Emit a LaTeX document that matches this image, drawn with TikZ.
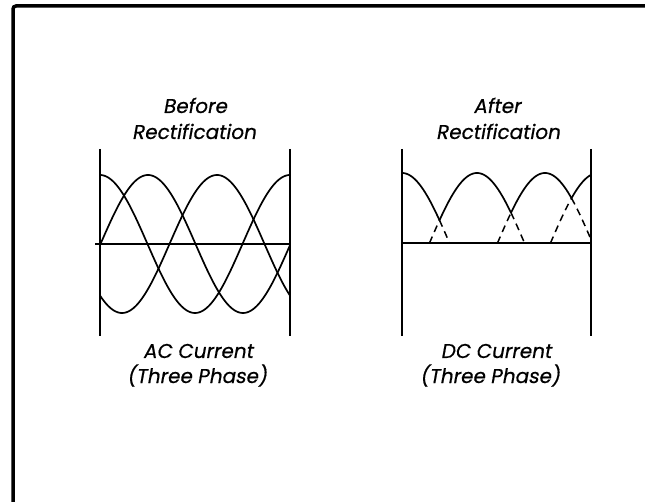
\documentclass[tikz,border=0pt]{standalone}
\usepackage{fontspec}
\newfontfamily\labfont{Poppins}[FakeSlant=0.18,FakeBold=0.5]
\begin{document}
\begin{tikzpicture}[x=1pt,y=-1pt,
  frame/.style={line width=3.5pt,rounded corners=3pt},
  panel/.style={line width=1.3pt},
  axisline/.style={line width=1.4pt},
  wave/.style={line width=1.7pt,line join=round},
  dwave/.style={line width=1.5pt,dash pattern=on 7pt off 5pt},
  lbl/.style={anchor=base,inner sep=0pt,font=\labfont\fontsize{20}{24}\selectfont}]
\useasboundingbox (0,0) rectangle (645,502);
% outer frame (top and left edges)
\draw[frame] (13,505) -- (13,6) -- (648,6);
% titles
\node[lbl] (t1a) at (195,113) {Before};
\node[lbl] (t1b) at (194,139) {Rectification};
\node[lbl] (t2a) at (497,113) {After};
\node[lbl] (t2b) at (498,139) {Rectification};
\node[lbl] (b1a) at (198,358) {AC Current};
\node[lbl] (b1b) at (197,383) {(Three Phase)};
\node[lbl] (b2a) at (496,358) {DC Current};
\node[lbl] (b2b) at (490,383) {(Three Phase)};
% left panel frame
\coordinate (l1t) at (100,149); \coordinate (l1b) at (100,336);
\coordinate (l2t) at (290,149); \coordinate (l2b) at (290,336);
\coordinate (la1) at (95,244);  \coordinate (la2) at (290,244);
\draw[panel] (l1t) -- (l1b);
\draw[panel] (l2t) -- (l2b);
\draw[axisline] (la1) -- (la2);
% three-phase AC waves (period 190)
\draw[wave] plot[domain=100:290,samples=120,variable=\t] ({\t},{244-69*cos(1.894737*(\t-100))});
\draw[wave] plot[domain=100:290,samples=120,variable=\t] ({\t},{244-69*cos(1.894737*(\t-148))});
\draw[wave] plot[domain=100:290,samples=120,variable=\t] ({\t},{244-69*cos(1.894737*(\t-217))});
% right panel frame
\coordinate (r1t) at (402,149); \coordinate (r1b) at (402,336);
\coordinate (r2t) at (591,149); \coordinate (r2b) at (591,336);
\coordinate (ra1) at (402,243); \coordinate (ra2) at (591,243);
\draw[panel] (r1t) -- (r1b);
\draw[panel] (r2t) -- (r2b);
\draw[axisline] (ra1) -- (ra2);
% rectified envelope (solid) and hidden parts (dashed)
\draw[wave] plot[domain=402:439.5,samples=40,variable=\t] ({\t},{243-70*cos(1.894737*(\t-402))});
\draw[dwave] plot[domain=439.5:449.5,samples=12,variable=\t] ({\t},{243-70*cos(1.894737*(\t-402))});
\draw[dwave] plot[domain=429.5:439.5,samples=12,variable=\t] ({\t},{243-70*cos(1.894737*(\t-477))});
\draw[wave] plot[domain=439.5:511,samples=60,variable=\t] ({\t},{243-70*cos(1.894737*(\t-477))});
\draw[dwave] plot[domain=511:524.5,samples=12,variable=\t] ({\t},{243-70*cos(1.894737*(\t-477))});
\draw[dwave] plot[domain=497.5:511,samples=12,variable=\t] ({\t},{243-70*cos(1.894737*(\t-545))});
\draw[wave] plot[domain=511:571.5,samples=60,variable=\t] ({\t},{243-70*cos(1.894737*(\t-545))});
\draw[dwave] plot[domain=571.5:591,samples=16,variable=\t] ({\t},{243-70*cos(1.894737*(\t-545))});
\draw[dwave] plot[domain=550.5:571.5,samples=16,variable=\t] ({\t},{243-70*cos(1.894737*(\t-598))});
\draw[wave] plot[domain=571.5:591,samples=20,variable=\t] ({\t},{243-70*cos(1.894737*(\t-598))});
\end{tikzpicture}
\end{document}
